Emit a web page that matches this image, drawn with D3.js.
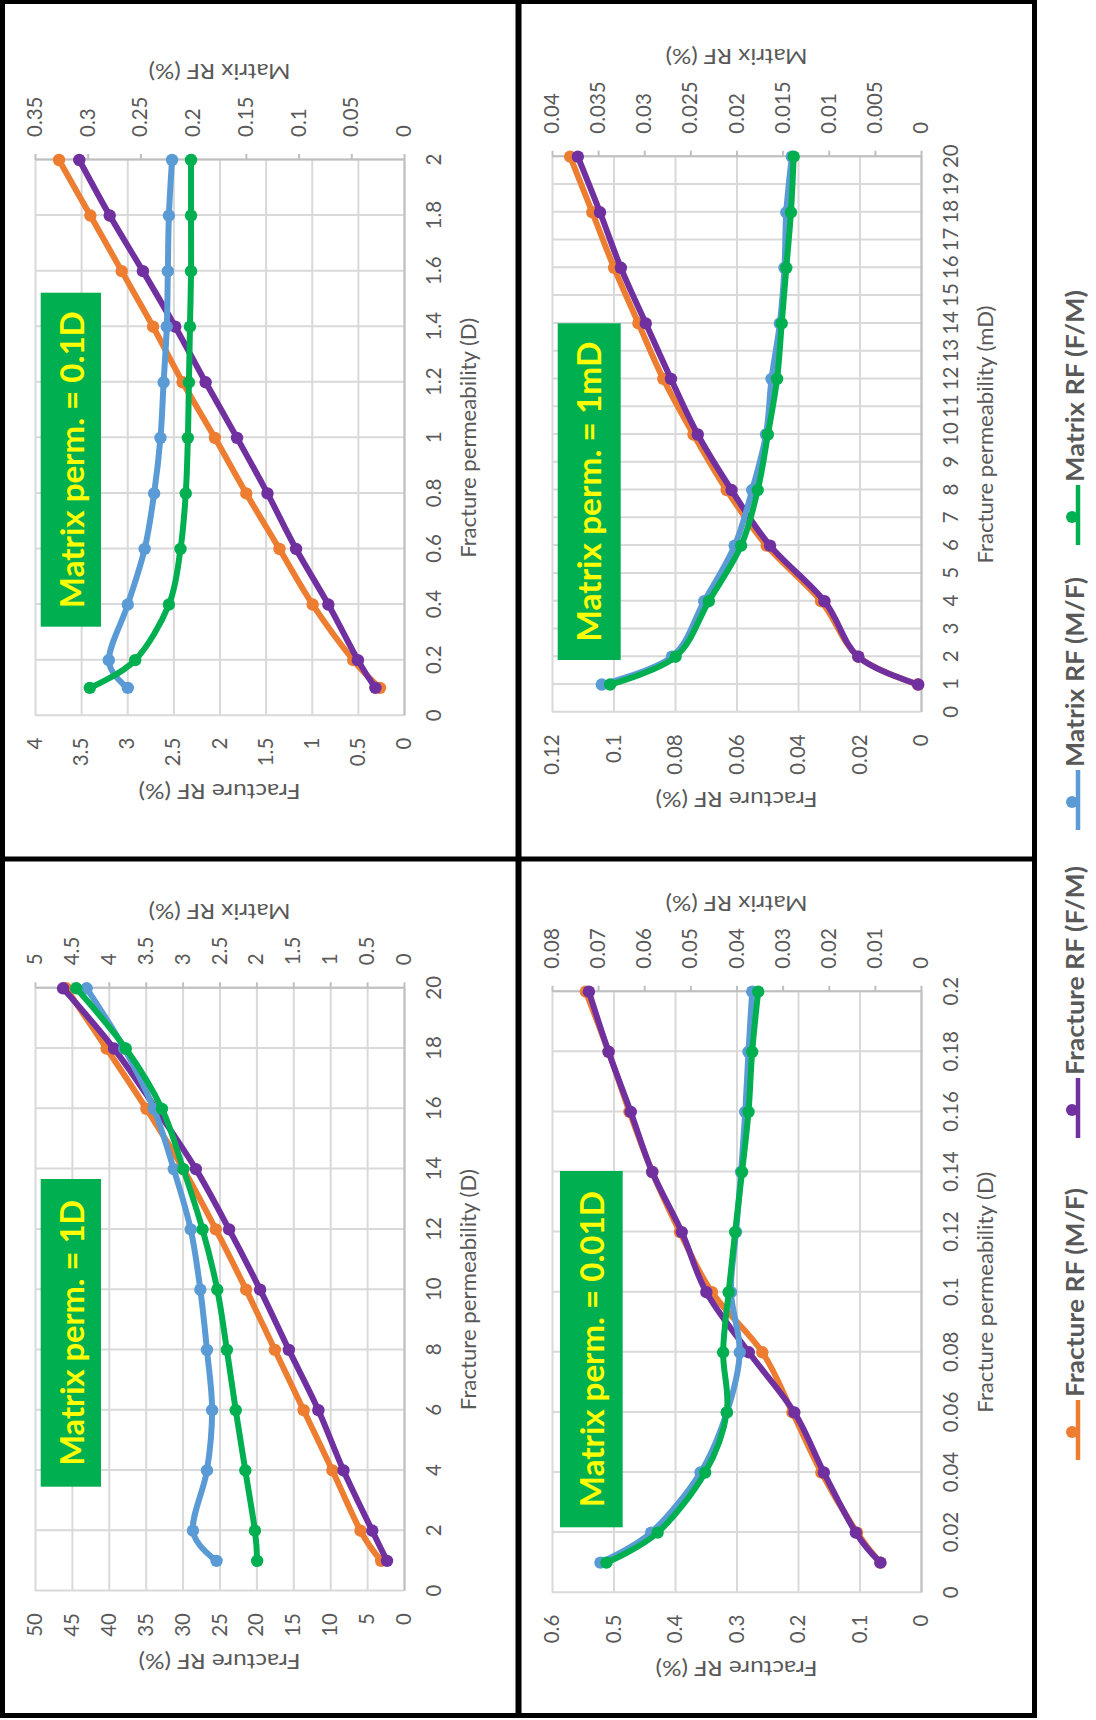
<!DOCTYPE html>
<html>
<head>
<meta charset="utf-8">
<script src="https://cdn.jsdelivr.net/npm/d3@7"></script>
<style>
  html, body { margin: 0; padding: 0; background: #fff; }
  svg { display: block; }
</style>
</head>
<body>
<svg id="fig" width="1096" height="1720"></svg>
<script>
// ---------------- data ----------------
// Matrix perm. = 1D  (fracture permeability in D)
const perm1D      = [1, 2, 4, 6, 8, 10, 12, 14, 16, 18, 20];
const fracMF_1D   = [3.1, 5.9, 9.7, 13.6, 17.5, 21.4, 25.5, 29.9, 34.9, 40.3, 45.8];
const fracFM_1D   = [2.3, 4.3, 8.2, 11.6, 15.6, 19.5, 23.7, 28.2, 33.6, 39.3, 46.2];
const matMF_1D    = [2.54, 2.86, 2.67, 2.60, 2.67, 2.76, 2.89, 3.12, 3.39, 3.79, 4.30];
const matFM_1D    = [1.99, 2.02, 2.15, 2.28, 2.40, 2.53, 2.73, 2.99, 3.28, 3.77, 4.44];

// Matrix perm. = 0.1D
const perm01D     = [0.1, 0.2, 0.4, 0.6, 0.8, 1.0, 1.2, 1.4, 1.6, 1.8, 2.0];
const fracMF_01D  = [0.26, 0.55, 0.99, 1.35, 1.71, 2.05, 2.40, 2.72, 3.06, 3.40, 3.74];
const fracFM_01D  = [0.31, 0.50, 0.82, 1.17, 1.48, 1.81, 2.15, 2.48, 2.83, 3.19, 3.52];
const matMF_01D   = [0.262, 0.280, 0.262, 0.246, 0.237, 0.231, 0.228, 0.225, 0.224, 0.223, 0.220];
const matFM_01D   = [0.298, 0.255, 0.223, 0.212, 0.207, 0.205, 0.204, 0.203, 0.202, 0.202, 0.202];

// Matrix perm. = 0.01D
const perm001D    = [0.01, 0.02, 0.04, 0.06, 0.08, 0.10, 0.12, 0.14, 0.16, 0.18, 0.20];
const fracMF_001D = [0.066, 0.104, 0.162, 0.209, 0.258, 0.340, 0.392, 0.437, 0.474, 0.508, 0.545];
const fracFM_001D = [0.066, 0.106, 0.158, 0.206, 0.280, 0.349, 0.389, 0.437, 0.472, 0.508, 0.540];
const matMF_001D  = [0.0695, 0.0585, 0.0478, 0.0421, 0.0393, 0.0412, 0.0401, 0.0390, 0.0381, 0.0374, 0.0366];
const matFM_001D  = [0.0682, 0.0571, 0.0468, 0.0421, 0.0429, 0.0417, 0.0403, 0.0388, 0.0374, 0.0366, 0.0353];

// Matrix perm. = 1mD  (fracture permeability in mD)
const perm1mD     = [1, 2, 4, 6, 8, 10, 12, 14, 16, 18, 20];
const fracMF_1mD  = [0.0010, 0.0204, 0.0325, 0.0502, 0.0632, 0.0740, 0.0838, 0.0919, 0.0998, 0.1069, 0.1141];
const fracFM_1mD  = [0.0009, 0.0204, 0.0314, 0.0491, 0.0616, 0.0726, 0.0813, 0.0895, 0.0976, 0.1044, 0.1116];
const matMF_1mD   = [0.0346, 0.0270, 0.0235, 0.0202, 0.0183, 0.0168, 0.0162, 0.0153, 0.0148, 0.0146, 0.0140];
const matFM_1mD   = [0.0337, 0.0266, 0.0230, 0.0195, 0.0177, 0.0166, 0.0156, 0.0151, 0.0146, 0.0141, 0.0138];

// tick values
const xTicks1D    = [0, 2, 4, 6, 8, 10, 12, 14, 16, 18, 20];
const yTicks1D    = [0, 5, 10, 15, 20, 25, 30, 35, 40, 45, 50];
const y2Ticks1D   = [0, 0.5, 1, 1.5, 2, 2.5, 3, 3.5, 4, 4.5, 5];
const xTicks01D   = [0, 0.2, 0.4, 0.6, 0.8, 1, 1.2, 1.4, 1.6, 1.8, 2];
const yTicks01D   = [0, 0.5, 1, 1.5, 2, 2.5, 3, 3.5, 4];
const y2Ticks01D  = [0, 0.05, 0.1, 0.15, 0.2, 0.25, 0.3, 0.35];
const xTicks001D  = [0, 0.02, 0.04, 0.06, 0.08, 0.1, 0.12, 0.14, 0.16, 0.18, 0.2];
const yTicks001D  = [0, 0.1, 0.2, 0.3, 0.4, 0.5, 0.6];
const y2Ticks001D = [0, 0.01, 0.02, 0.03, 0.04, 0.05, 0.06, 0.07, 0.08];
const xTicks1mD   = [0, 1, 2, 3, 4, 5, 6, 7, 8, 9, 10, 11, 12, 13, 14, 15, 16, 17, 18, 19, 20];
const yTicks1mD   = [0, 0.02, 0.04, 0.06, 0.08, 0.1, 0.12];
const y2Ticks1mD  = [0, 0.005, 0.01, 0.015, 0.02, 0.025, 0.03, 0.035, 0.04];

// series names (legend order)
const seriesNames = ["Fracture RF (M/F)", "Fracture RF (F/M)", "Matrix RF (M/F)", "Matrix RF (F/M)"];

// ---------------- styling ----------------
const COLORS = ["#ED7D31", "#7030A0", "#5B9BD5", "#00B050"];
const FONT = "Lato, 'Open Sans', 'DejaVu Sans', sans-serif";
const TXT = "#595959";
const GRID = "#d9d9d9";
const AXIS = "#bfbfbf";

// panel layout, drawn in the landscape frame (1720 x 1096) and then turned
const panels = [
  { x: perm1D, series: [fracMF_1D, fracFM_1D, matMF_1D, matFM_1D],
    xTicks: xTicks1D, yTicks: yTicks1D, y2Ticks: y2Ticks1D,
    xTitle: "Fracture permeability (D)", label: "Matrix perm. = 1D",
    L: { x0: 129, x1: 731.7, yTop: 35, yBot: 404, box: [233.3, 40.7, 307.7, 60.3], textLen: 266, xTitleLen: 241 } },
  { x: perm01D, series: [fracMF_01D, fracFM_01D, matMF_01D, matFM_01D],
    xTicks: xTicks01D, yTicks: yTicks01D, y2Ticks: y2Ticks01D,
    xTitle: "Fracture permeability (D)", label: "Matrix perm. = 0.1D",
    L: { x0: 1004.3, x1: 1560, yTop: 35, yBot: 404, box: [1093.3, 40.7, 334, 60.3], textLen: 297, xTitleLen: 240 } },
  { x: perm001D, series: [fracMF_001D, fracFM_001D, matMF_001D, matFM_001D],
    xTicks: xTicks001D, yTicks: yTicks001D, y2Ticks: y2Ticks001D,
    xTitle: "Fracture permeability (D)", label: "Matrix perm. = 0.01D",
    L: { x0: 127.3, x1: 728.3, yTop: 552, yBot: 921, box: [192.7, 560, 356.3, 62.7], textLen: 316, xTitleLen: 241 } },
  { x: perm1mD, series: [fracMF_1mD, fracFM_1mD, matMF_1mD, matFM_1mD],
    xTicks: xTicks1mD, yTicks: yTicks1mD, y2Ticks: y2Ticks1mD,
    xTitle: "Fracture permeability (mD)", label: "Matrix perm. = 1mD",
    L: { x0: 1007.7, x1: 1563.3, yTop: 552, yBot: 921, box: [1060, 557.7, 336.7, 63], textLen: 300, xTitleLen: 258 } }
];

const svg = d3.select("#fig");
svg.append("rect").attr("width", 1096).attr("height", 1720).attr("fill", "#fff");

// whole figure is laid out landscape and turned a quarter turn counter-clockwise
const root = svg.append("g").attr("transform", "translate(0,1720) rotate(-90)");

function styleLabels(sel) {
  sel.attr("font-family", FONT).attr("font-size", 20.5);
  sel.selectAll("text").attr("fill", TXT);
}

function drawPanel(g, p) {
  const L = p.L;
  const w = L.x1 - L.x0, h = L.yBot - L.yTop;
  const x  = d3.scaleLinear().domain([0, d3.max(p.xTicks)]).range([L.x0, L.x1]);
  const yF = d3.scaleLinear().domain([0, d3.max(p.yTicks)]).range([L.yBot, L.yTop]);
  const yM = d3.scaleLinear().domain([0, d3.max(p.y2Ticks)]).range([L.yBot, L.yTop]);

  // gridlines
  const gh = g.append("g").attr("transform", `translate(${L.x0},0)`)
    .call(d3.axisLeft(yF).tickValues(p.yTicks).tickSize(-w).tickFormat(""));
  gh.select(".domain").remove();
  gh.selectAll("line").attr("stroke", GRID).attr("stroke-width", 2);

  const gv = g.append("g").attr("transform", `translate(0,${L.yBot})`)
    .call(d3.axisBottom(x).tickValues(p.xTicks).tickSize(-h).tickFormat(""));
  gv.select(".domain").remove();
  gv.selectAll("line").attr("stroke", GRID).attr("stroke-width", 2);

  // category (bottom) axis
  const ab = g.append("g").attr("transform", `translate(0,${L.yBot})`)
    .call(d3.axisBottom(x).tickValues(p.xTicks).tickFormat(d => String(d))
      .tickSize(0).tickSizeOuter(0).tickPadding(22));
  ab.select(".domain").attr("stroke", AXIS).attr("stroke-width", 2);
  styleLabels(ab);

  // primary value axis (left)
  const al = g.append("g").attr("transform", `translate(${L.x0},0)`)
    .call(d3.axisLeft(yF).tickValues(p.yTicks).tickFormat(d => String(d))
      .tickSize(0).tickPadding(22));
  al.select(".domain").remove();
  styleLabels(al);

  // secondary value axis (right)
  const ar = g.append("g").attr("transform", `translate(${L.x1},0)`)
    .call(d3.axisRight(yM).tickValues(p.y2Ticks).tickFormat(d => String(d))
      .tickSize(6).tickSizeOuter(0).tickPadding(17));
  ar.select(".domain").attr("stroke", AXIS).attr("stroke-width", 2);
  ar.selectAll("line").attr("stroke", AXIS).attr("stroke-width", 2);
  styleLabels(ar);

  // axis titles
  g.append("text")
    .attr("x", (L.x0 + L.x1) / 2).attr("y", L.yBot + 72)
    .attr("text-anchor", "middle").attr("font-family", FONT).attr("font-size", 21)
    .attr("fill", TXT).attr("textLength", L.xTitleLen).attr("lengthAdjust", "spacingAndGlyphs")
    .text(p.xTitle);

  const maxL = d3.max(al.selectAll("text").nodes(), n => n.getComputedTextLength());
  const cxL = L.x0 - 22 - maxL - 25;
  g.append("text")
    .attr("transform", `translate(${cxL},${(L.yTop + L.yBot) / 2}) rotate(-90)`)
    .attr("text-anchor", "middle").attr("dy", "0.35em")
    .attr("font-family", FONT).attr("font-size", 21).attr("fill", TXT)
    .attr("textLength", 162).attr("lengthAdjust", "spacingAndGlyphs")
    .text("Fracture RF (%)");

  const maxR = d3.max(ar.selectAll("text").nodes(), n => n.getComputedTextLength());
  const cxR = L.x1 + 23 + maxR + 25;
  g.append("text")
    .attr("transform", `translate(${cxR},${(L.yTop + L.yBot) / 2}) rotate(-90)`)
    .attr("text-anchor", "middle").attr("dy", "0.35em")
    .attr("font-family", FONT).attr("font-size", 21).attr("fill", TXT)
    .attr("textLength", 142).attr("lengthAdjust", "spacingAndGlyphs")
    .text("Matrix RF (%)");

  // series: fracture RF on the primary axis, matrix RF on the secondary axis
  const scales = [yF, yF, yM, yM];
  p.series.forEach((vals, i) => {
    const pts = p.x.map((xv, j) => [xv, vals[j]]);
    const line = d3.line()
      .x(d => x(d[0])).y(d => scales[i](d[1]))
      .curve(d3.curveCardinal.tension(0));
    const sg = g.append("g");
    sg.append("path").datum(pts).attr("d", line)
      .attr("fill", "none").attr("stroke", COLORS[i])
      .attr("stroke-width", 6).attr("stroke-linejoin", "round").attr("stroke-linecap", "round");
    sg.selectAll("circle").data(pts).join("circle")
      .attr("cx", d => x(d[0])).attr("cy", d => scales[i](d[1]))
      .attr("r", 6.2).attr("fill", COLORS[i]);
  });

  // case label
  const [bx, by, bw, bh] = L.box;
  g.append("rect").attr("x", bx).attr("y", by).attr("width", bw).attr("height", bh)
    .attr("fill", "#00B050");
  g.append("text")
    .attr("x", bx + bw / 2).attr("y", by + 43.5)
    .attr("text-anchor", "middle").attr("font-family", FONT).attr("font-weight", 700)
    .attr("font-size", 33).attr("fill", "#FFFF00")
    .attr("textLength", L.textLen).attr("lengthAdjust", "spacingAndGlyphs")
    .text(p.label);
}

panels.forEach(p => drawPanel(root.append("g"), p));

// legend
const legendItems = [
  { x: 260, len: 209 },
  { x: 582, len: 209 },
  { x: 890, len: 190 },
  { x: 1175, len: 192 }
];
const lg = root.append("g");
legendItems.forEach((it, i) => {
  lg.append("line")
    .attr("x1", it.x).attr("x2", it.x + 60).attr("y1", 1078).attr("y2", 1078)
    .attr("stroke", COLORS[i]).attr("stroke-width", 4.5);
  lg.append("circle")
    .attr("cx", it.x + 28).attr("cy", 1072).attr("r", 6).attr("fill", COLORS[i]);
  lg.append("text")
    .attr("x", it.x + 63).attr("y", 1075).attr("dy", "0.35em")
    .attr("font-family", FONT).attr("font-weight", 700).attr("font-size", 25)
    .attr("fill", TXT).attr("textLength", it.len).attr("lengthAdjust", "spacingAndGlyphs")
    .text(seriesNames[i]);
});

// panel frames
const fr = root.append("g").attr("fill", "none").attr("stroke", "#000");
fr.append("rect").attr("x", 4.5).attr("y", 2.5).attr("width", 1714).attr("height", 1032)
  .attr("stroke-width", 5);
fr.append("line").attr("x1", 4.5).attr("x2", 1718.5).attr("y1", 518.5).attr("y2", 518.5)
  .attr("stroke-width", 6);
fr.append("line").attr("x1", 861).attr("x2", 861).attr("y1", 2.5).attr("y2", 1034.5)
  .attr("stroke-width", 5);
</script>
</body>
</html>
